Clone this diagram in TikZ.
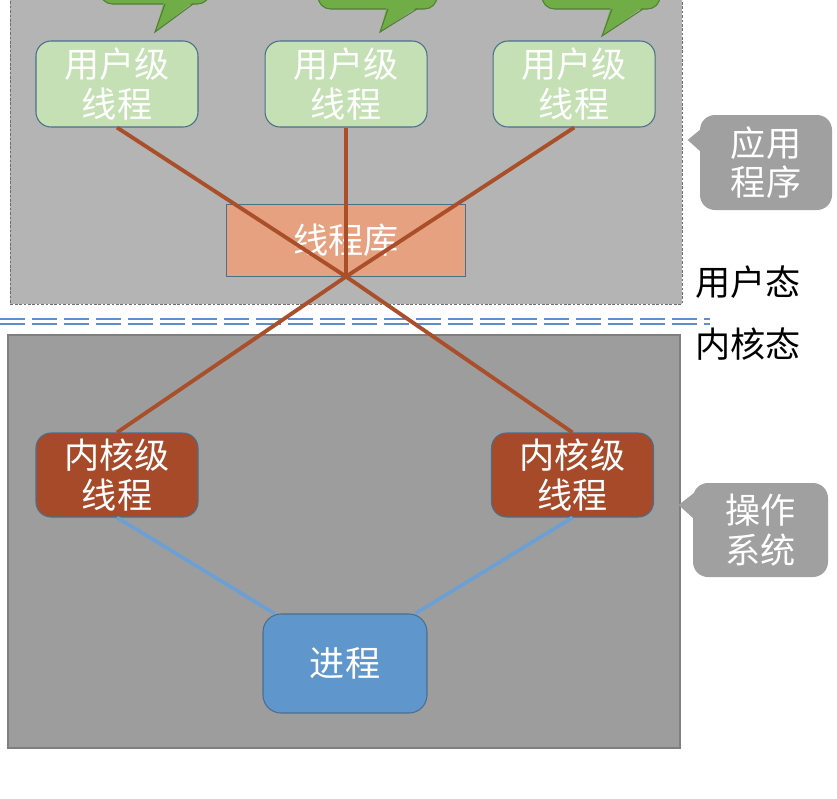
\documentclass[tikz,border=0pt]{standalone}
\usepackage{fontspec}
\newfontfamily\cjk{Noto Sans CJK SC}
\usetikzlibrary{positioning,calc}

\definecolor{userbg}{HTML}{B4B4B4}
\definecolor{kernbg}{HTML}{9D9D9D}
\definecolor{kernedge}{HTML}{7F7F7F}
\definecolor{regionedge}{HTML}{6E6E6E}
\definecolor{usergreen}{HTML}{C5E0B4}
\definecolor{boxedge}{HTML}{4A6E8C}
\definecolor{calloutgreen}{HTML}{70AD47}
\definecolor{calloutedge}{HTML}{507E32}
\definecolor{libfill}{HTML}{E6A180}
\definecolor{mapbrown}{HTML}{A9502B}
\definecolor{kernfill}{HTML}{A64A2A}
\definecolor{procblue}{HTML}{5F96CB}
\definecolor{linkblue}{HTML}{6CA0D4}
\definecolor{bubblegray}{HTML}{A0A0A0}
\definecolor{modeline}{HTML}{5F8FC8}

\begin{document}
\begin{tikzpicture}[node distance=1.3cm, every node/.style={align=center, text=white, font=\cjk\fontsize{20}{22.5}\selectfont},
  userthread/.style={draw=boxedge, fill=usergreen, rounded corners=0.3cm, line width=0.6pt, minimum width=3.24cm, minimum height=1.72cm},
  kernthread/.style={draw=boxedge, fill=kernfill, rounded corners=0.3cm, line width=0.6pt, minimum width=3.24cm, minimum height=1.68cm},
  libbox/.style={draw=boxedge, fill=libfill, line width=0.6pt, minimum width=4.78cm, minimum height=1.44cm},
  procbox/.style={draw=boxedge, fill=procblue, rounded corners=0.36cm, line width=0.6pt, minimum width=3.28cm, minimum height=1.98cm},
  bubble/.style={fill=bubblegray, rounded corners=0.3cm},
  maplink/.style={draw=mapbrown, line width=2.2pt},
  proclink/.style={draw=linkblue, line width=2.1pt},
  modelabel/.style={text=black}]
\useasboundingbox (0,0) rectangle (16.74,-15.96);
\clip (0,0) rectangle (16.74,-15.96);

% Regions
\draw[draw=regionedge, dash pattern=on 1.5pt off 1pt, line width=0.5pt, fill=userbg] (0.2,0.5) rectangle (13.64,-6.08);
\draw[draw=kernedge, line width=0.8pt, fill=kernbg] (0.16,-6.7) rectangle (13.6,-14.96);

% Mode boundary
\draw[modeline, line width=1.4pt, dash pattern=on 0.5cm off 0.14cm] (0,-6.385) -- (14.2,-6.385);
\draw[modeline, line width=1.4pt, dash pattern=on 0.5cm off 0.14cm] (0,-6.485) -- (14.2,-6.485);

% Green callouts (cut off at the top)
\filldraw[fill=calloutgreen, draw=calloutedge, line width=0.6pt, rounded corners=0.25cm] (2.0,0.6) rectangle (4.2,-0.08);
\fill[calloutgreen] (3.28,-0.03) -- (3.1,-0.64) -- (3.88,-0.03) -- cycle;
\draw[calloutedge, line width=0.6pt] (3.3,-0.08) -- (3.1,-0.64) -- (3.86,-0.08);
\filldraw[fill=calloutgreen, draw=calloutedge, line width=0.6pt, rounded corners=0.25cm] (6.36,0.6) rectangle (8.74,-0.18);
\fill[calloutgreen] (7.74,-0.13) -- (7.6,-0.64) -- (8.36,-0.13) -- cycle;
\draw[calloutedge, line width=0.6pt] (7.76,-0.18) -- (7.6,-0.64) -- (8.34,-0.18);
\filldraw[fill=calloutgreen, draw=calloutedge, line width=0.6pt, rounded corners=0.25cm] (10.84,0.6) rectangle (13.2,-0.18);
\fill[calloutgreen] (12.22,-0.13) -- (12.04,-0.72) -- (12.88,-0.13) -- cycle;
\draw[calloutedge, line width=0.6pt] (12.24,-0.18) -- (12.04,-0.72) -- (12.86,-0.18);

% User-level threads
\node (u1) [userthread] at (2.34,-1.68) {用户级\\线程};
\node (u2) [userthread, right=1.32cm of u1] {用户级\\线程};
\node (u3) [userthread, right=1.3cm of u2] {用户级\\线程};

% Thread library
\node (lib) [libbox, below=1.52cm of u2] {线程库};

% Kernel-level threads and process
\node (k1) [kernthread] at (2.34,-9.5) {内核级\\线程};
\node (k2) [kernthread] at (11.45,-9.5) {内核级\\线程};
\node (proc) [procbox] at (6.9,-13.27) {进程};

% Mapping
\draw[maplink] (u1.south) -- (lib.south) -- (k2.north);
\draw[maplink] (u3.south) -- (lib.south) -- (k1.north);
\draw[maplink] (u2.south) -- (lib.south);
\draw[proclink] (k1.south) -- ($(proc.north west)+(0.24,0)$);
\draw[proclink] (k2.south) -- ($(proc.north east)+(-0.24,0)$);

% Side callouts
\node (app) [bubble, minimum width=2.64cm, minimum height=1.9cm] at (15.32,-3.25) {应用\\程序};
\fill[bubblegray] ($(app.west)+(0.05,0.69)$) -- ($(app.west)+(-0.24,0.45)$) -- ($(app.west)+(0.05,0.19)$) -- cycle;
\node (os) [bubble, minimum width=2.7cm, minimum height=1.88cm] at (15.21,-10.6) {操作\\系统};
\fill[bubblegray] ($(os.west)+(0.05,0.76)$) -- ($(os.west)+(-0.28,0.5)$) -- ($(os.west)+(0.05,0.2)$) -- cycle;

% Mode labels
\node (umode) [modelabel] at (14.96,-5.64) {用户态};
\node (kmode) [modelabel] at (14.96,-6.88) {内核态};
\end{tikzpicture}
\end{document}
